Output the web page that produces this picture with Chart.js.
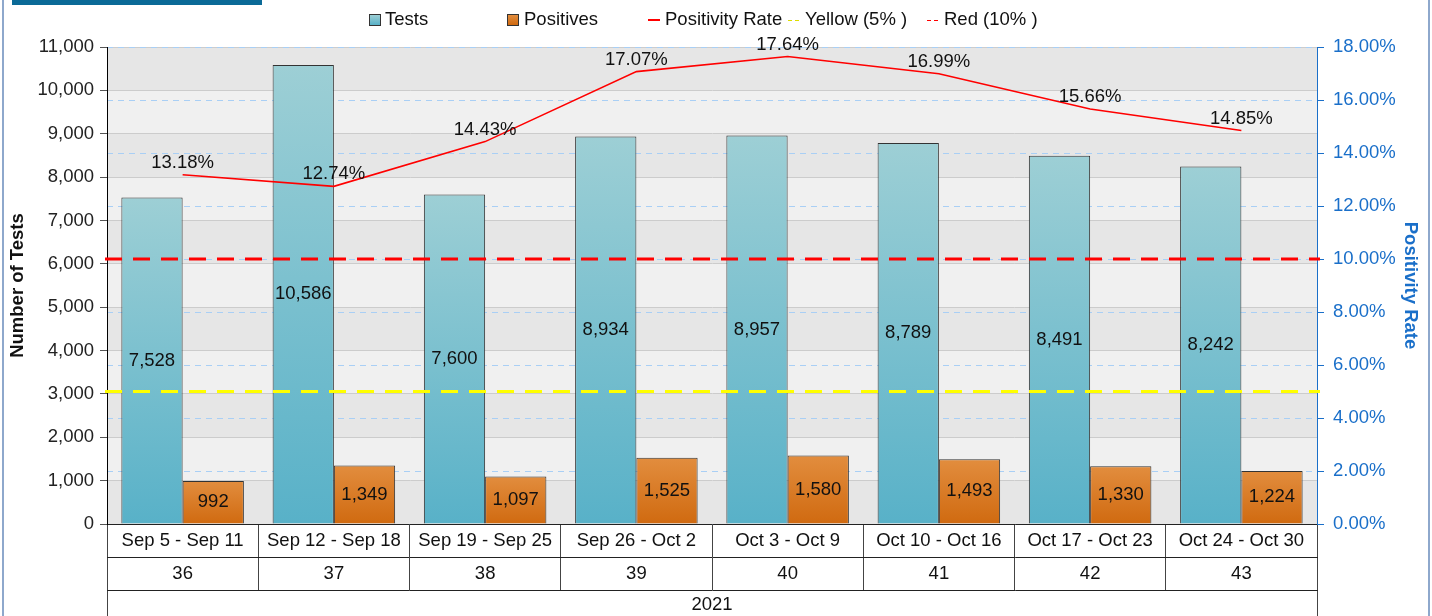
<!DOCTYPE html>
<html>
<head>
<meta charset="utf-8">
<script src="https://cdn.jsdelivr.net/npm/chart.js@4/dist/chart.umd.min.js"></script>
<style>
    body { margin: 0; background: #fff; }
    #wrap { position: relative; width: 1432px; height: 616px; overflow: hidden; font-family: Arial, "Liberation Sans", sans-serif; }
    #chart { position: absolute; left: 0; top: 0; }
    .banner { position: absolute; left: 12px; top: 0; width: 250px; height: 5px; background: #0b6a97; }
    .frame { position: absolute; top: 0; width: 2px; height: 616px; background: #8ea8cc; }
    .lg { position: absolute; top: 8px; font-size: 18.5px; color: #111; white-space: nowrap; line-height: 22px; }
    .box { position: absolute; top: 6px; width: 10px; height: 10px; border: 1px solid #333; }
    .ln { position: absolute; top: 11px; height: 2px; }
</style>
</head>
<body>
<div id="wrap">
    <canvas id="chart" width="1432" height="616"></canvas>
    <div class="banner"></div>
    <div class="frame" style="left:2px"></div>
    <div class="frame" style="left:1428px"></div>
    <!-- legende -->
    <div class="lg" style="left:369px"><span class="box" style="left:0;background:linear-gradient(#9dcfd5,#58b1c8)"></span><span style="margin-left:16px">Tests</span></div>
    <div class="lg" style="left:507px"><span class="box" style="left:0;background:linear-gradient(#e28d3e,#d06a10)"></span><span style="margin-left:17px">Positives</span></div>
    <div class="lg" style="left:648px"><span class="ln" style="left:0;width:12px;background:#ff0000"></span><span style="margin-left:17px">Positivity Rate</span></div>
    <div class="lg" style="left:788px"><span class="ln" style="left:0;width:11px;height:1px;top:12px;background:repeating-linear-gradient(90deg,#dddd00 0 4px,transparent 4px 7px)"></span><span style="margin-left:17px">Yellow (5% )</span></div>
    <div class="lg" style="left:927px"><span class="ln" style="left:0;width:12px;height:1px;top:12px;background:repeating-linear-gradient(90deg,#ff0000 0 4px,transparent 4px 7px)"></span><span style="margin-left:17px">Red (10% )</span></div>
</div>
<script>
// Donnees
const weekRanges = ['Sep 5 - Sep 11', 'Sep 12 - Sep 18', 'Sep 19 - Sep 25', 'Sep 26 - Oct 2',
    'Oct 3 - Oct 9', 'Oct 10 - Oct 16', 'Oct 17 - Oct 23', 'Oct 24 - Oct 30'];
const weekNumbers = ['36', '37', '38', '39', '40', '41', '42', '43'];
const years = ['2021'];
const tests = [7528, 10586, 7600, 8934, 8957, 8789, 8491, 8242];
const positives = [992, 1349, 1097, 1525, 1580, 1493, 1330, 1224];
const positivityRate = [13.18, 12.74, 14.43, 17.07, 17.64, 16.99, 15.66, 14.85];
const thresholds = [
    { value: 5, color: '#ffff00' },
    { value: 10, color: '#ff0000' }
];

const FONT = 'Arial, "Liberation Sans", sans-serif';
const FS = 18.5;

// degrade par barre
function barGradient(top, bottom) {
    return function(ctx) {
        const chart = ctx.chart;
        if (!chart.chartArea || !chart.scales.y || ctx.raw == null) return bottom;
        const y0 = chart.scales.y.getPixelForValue(ctx.raw);
        const y1 = chart.scales.y.getPixelForValue(0);
        const g = chart.ctx.createLinearGradient(0, y0, 0, y1);
        g.addColorStop(0, top);
        g.addColorStop(1, bottom);
        return g;
    };
}

// bandes alternees derriere la grille
const bandsPlugin = {
    id: 'bands',
    beforeDraw(chart) {
        const { ctx, chartArea, scales } = chart;
        const y = scales.y;
        ctx.save();
        for (let v = 0; v < 11000; v += 1000) {
            const top = y.getPixelForValue(v + 1000);
            const bot = y.getPixelForValue(v);
            ctx.fillStyle = ((v / 1000) % 2 === 0) ? '#e6e6e6' : '#f0f0f0';
            ctx.fillRect(chartArea.left, top, chartArea.right - chartArea.left, bot - top);
        }
        ctx.restore();
    }
};

// seuils + etiquettes
const labelsPlugin = {
    id: 'labels',
    afterDatasetsDraw(chart) {
        const { ctx, chartArea, scales } = chart;
        ctx.save();
        thresholds.forEach(t => {
            const py = scales.y1.getPixelForValue(t.value);
            ctx.strokeStyle = t.color;
            ctx.lineWidth = 3;
            ctx.setLineDash([17, 11]);
            ctx.beginPath();
            ctx.moveTo(chartArea.left - 2, py);
            ctx.lineTo(chartArea.right + 3, py);
            ctx.stroke();
        });
        ctx.setLineDash([]);
        ctx.font = FS + 'px ' + FONT;
        ctx.fillStyle = '#111';
        ctx.textAlign = 'center';
        ctx.textBaseline = 'middle';
        chart.data.datasets.forEach((ds, i) => {
            const meta = chart.getDatasetMeta(i);
            meta.data.forEach((el, j) => {
                if (ds.type === 'line') {
                    ctx.fillText(ds.data[j].toFixed(2) + '%', el.x, el.y - 12);
                } else {
                    ctx.fillText(ds.data[j].toLocaleString('en-US'), el.x, (el.y + el.base) / 2);
                }
            });
        });
        ctx.restore();
    }
};

const rowAxis = (labels, h, pad, weight) => ({
    type: 'category',
    position: 'bottom',
    labels: labels,
    offset: true,
    weight: weight,
    grid: { drawOnChartArea: false, drawTicks: true, tickLength: h, offset: true, color: '#444', tickColor: '#444' },
    border: { display: true, color: '#222' },
    ticks: { font: { size: FS, family: FONT }, color: '#111', padding: pad, maxRotation: 0, autoSkip: false },
    afterFit: (scale) => { scale.height = h; }
});

const xMain = rowAxis(weekRanges, 33, -27, 1);
delete xMain.labels;

new Chart(document.getElementById('chart'), {
    data: {
        labels: weekRanges,
        datasets: [{
            type: 'line',
            label: 'Positivity Rate',
            data: positivityRate,
            yAxisID: 'y1',
            borderColor: '#ff0000',
            borderWidth: 1.6,
            pointRadius: 0,
            tension: 0,
            order: 1
        }, {
            type: 'bar',
            label: 'Tests',
            data: tests,
            yAxisID: 'y',
            backgroundColor: barGradient('#9dcfd5', '#58b1c8'),
            borderColor: '#333',
            borderWidth: 1,
            categoryPercentage: 0.81,
            barPercentage: 1,
            order: 2
        }, {
            type: 'bar',
            label: 'Positives',
            data: positives,
            yAxisID: 'y',
            backgroundColor: barGradient('#e28d3e', '#d06a10'),
            borderColor: '#333',
            borderWidth: 1,
            categoryPercentage: 0.81,
            barPercentage: 1,
            order: 2
        }]
    },
    options: {
        responsive: false,
        animation: false,
        layout: { padding: { top: 47, left: 0, right: 0, bottom: 0 } },
        plugins: {
            legend: { display: false },
            tooltip: { enabled: false }
        },
        scales: {
            x: xMain,
            xWeek: rowAxis(weekNumbers, 33, -27, 2),
            xYear: rowAxis(years, 26, -22, 3),
            y: {
                position: 'left',
                min: 0,
                max: 11000,
                ticks: {
                    stepSize: 1000,
                    font: { size: FS, family: FONT },
                    color: '#222',
                    padding: 6,
                    callback: v => v.toLocaleString('en-US')
                },
                grid: { color: '#cccccc', tickColor: '#555', tickLength: 7 },
                border: { color: '#000' },
                title: {
                    display: true,
                    text: 'Number of Tests',
                    font: { size: FS, weight: 'bold', family: FONT },
                    color: '#111',
                    padding: { top: 7, bottom: 0 }
                },
                afterFit: (scale) => { scale.width = 107; }
            },
            y1: {
                position: 'right',
                min: 0,
                max: 18,
                ticks: {
                    stepSize: 2,
                    font: { size: FS, family: FONT },
                    color: '#1a6fc9',
                    padding: 9,
                    callback: v => v.toFixed(2) + '%'
                },
                grid: { color: '#a9cff5', tickColor: '#1a6fc9', tickLength: 7, tickBorderDash: [] },
                border: { color: '#1a6fc9', dash: [6, 5] },
                title: {
                    display: true,
                    text: 'Positivity Rate',
                    font: { size: FS, weight: 'bold', family: FONT },
                    color: '#1a6fc9',
                    padding: { top: 11, bottom: 0 }
                },
                afterFit: (scale) => { scale.width = 115; }
            }
        }
    },
    plugins: [bandsPlugin, labelsPlugin]
});
</script>
</body>
</html>
